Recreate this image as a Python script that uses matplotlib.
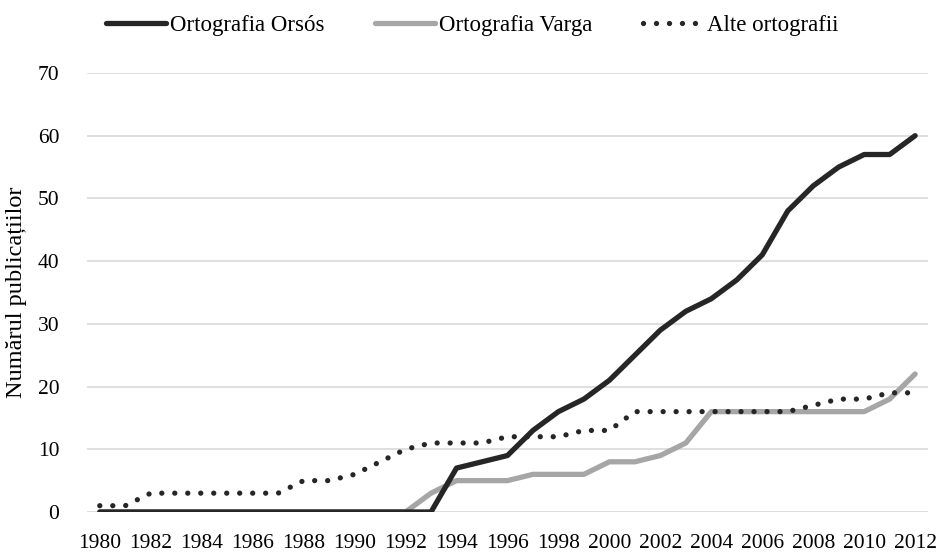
import numpy as np
import matplotlib
matplotlib.use("Agg")
import matplotlib.pyplot as plt

years = list(range(1980, 2013))
orsos = [0, 0, 0, 0, 0, 0, 0, 0, 0, 0, 0, 0, 0, 0, 7, 8, 9, 13, 16, 18, 21, 25, 29,
         32, 34, 37, 41, 48, 52, 55, 57, 57, 60]
varga = [0, 0, 0, 0, 0, 0, 0, 0, 0, 0, 0, 0, 0, 3, 5, 5, 5, 6, 6, 6, 8, 8, 9,
         11, 16, 16, 16, 16, 16, 16, 16, 18, 22]
alte = [1, 1, 3, 3, 3, 3, 3, 3, 5, 5, 6, 8, 10, 11, 11, 11, 12, 12, 12, 13, 13, 16, 16,
        16, 16, 16, 16, 16, 17, 18, 18, 19, 19]
labels = ["Ortografia Orsós", "Ortografia Varga", "Alte ortografii"]

plt.rcParams['font.family'] = ['Liberation Serif', 'DejaVu Serif']

fig = plt.figure(figsize=(9.4, 5.52), dpi=100)
ax = fig.add_axes([0.0926, 0.0725, 0.8945, 0.7953])

ax.plot(years, orsos, color='#262626', linewidth=3.8, label=labels[0],
        solid_capstyle='round', zorder=3)
ax.plot(years, varga, color='#a6a6a6', linewidth=3.8, label=labels[1],
        solid_capstyle='round', zorder=2)
ax.plot(years, alte, color='#262626', linewidth=3.8, linestyle=(0, (0.01, 2.45)),
        dash_capstyle='round', label=labels[2], zorder=4)

ax.set_xlim(1979.5, 2012.5)
ax.set_ylim(0, 70)
ax.set_yticks(range(0, 71, 10))
ax.set_xticks(range(1980, 2013, 2))
ax.tick_params(axis='both', length=0, labelsize=15.5, colors='black')
ax.tick_params(axis='y', pad=20)
ax.tick_params(axis='x', pad=16)
ax.grid(axis='y', color='#d9d9d9', linewidth=1.2)
ax.set_axisbelow(True)
for s in ax.spines.values():
    s.set_visible(False)

ax.set_ylabel("Numărul publicațiilor", fontsize=17.5, labelpad=8)

fig.legend(loc='upper center', bbox_to_anchor=(0.502, 1.01), ncol=3, frameon=False,
           fontsize=16.5, handlelength=2.65, handletextpad=0.15, columnspacing=2.2)

fig.savefig("out.png", dpi=100)
